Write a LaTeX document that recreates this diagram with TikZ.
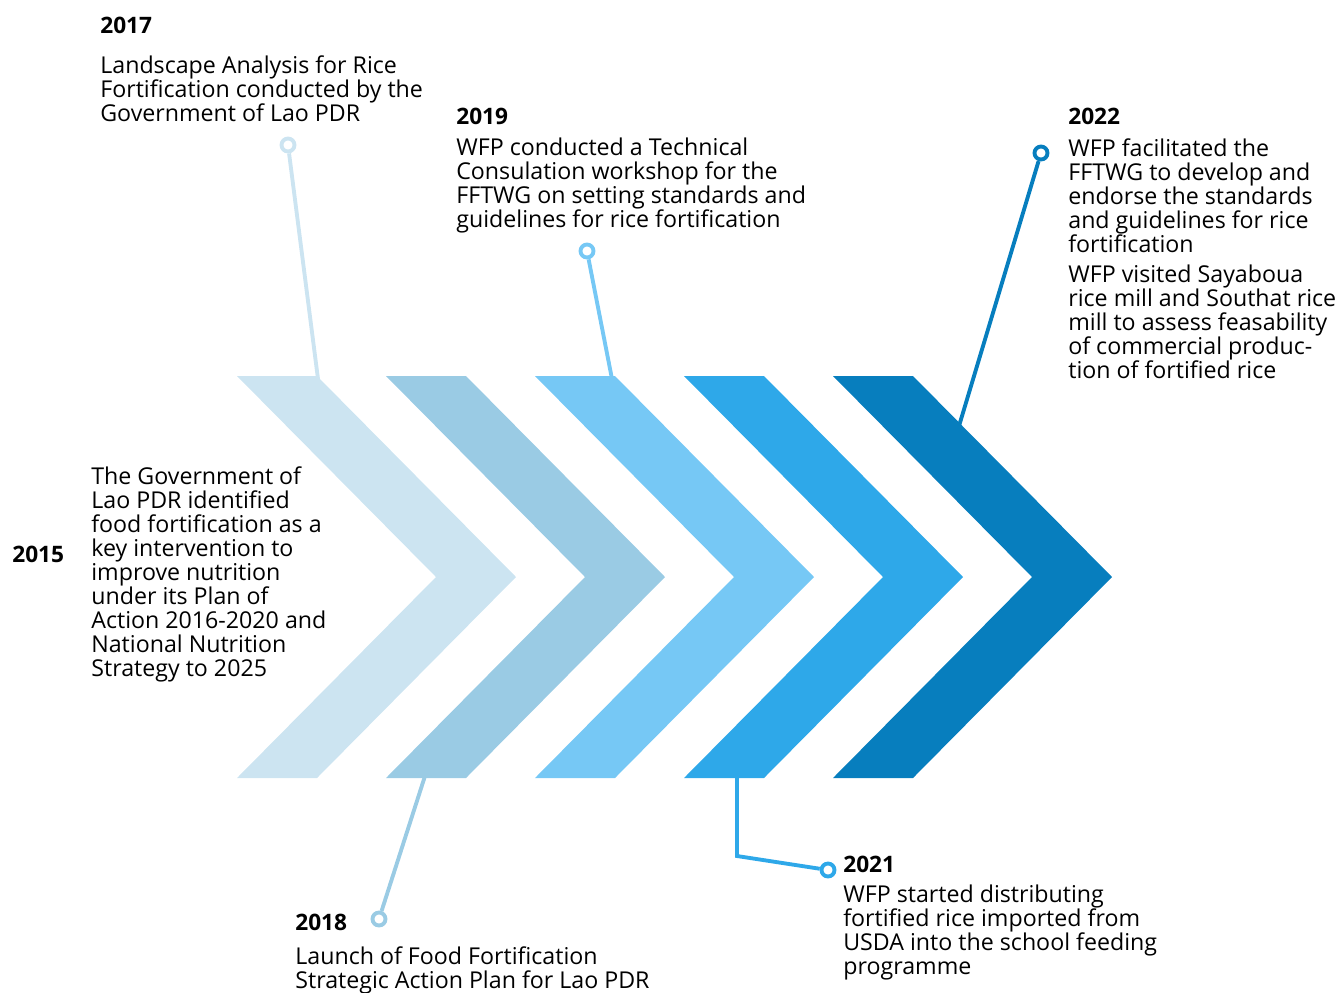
\documentclass[tikz,border=0pt]{standalone}
\usepackage{fontspec}
\setmainfont{Open Sans}
\usepackage{xcolor}

\definecolor{chevA}{HTML}{CCE4F1}
\definecolor{chevB}{HTML}{9ACBE4}
\definecolor{chevC}{HTML}{76C8F5}
\definecolor{chevD}{HTML}{2EA8E9}
\definecolor{chevE}{HTML}{077EBE}

\begin{document}
\begin{tikzpicture}[x=0.02cm, y=-0.02cm, every node/.style={inner sep=0pt, align=left, anchor=north west, font=\fontsize{13.2}{13.66}\selectfont}, year/.style={font=\fontsize{12.9}{14}\selectfont\bfseries}, dot/.style={circle, draw=#1, fill=white, line width=2.2pt, minimum size=0.26cm, anchor=center}, link/.style={draw=#1, line width=2.2pt}]
  \useasboundingbox (0,0) rectangle (1339,992);
  % chevrons
  \foreach \i/\c in {0/chevA,1/chevB,2/chevC,3/chevD,4/chevE}
    \fill[\c] ({237+149*\i},376) -- ++(80,0) -- ++(199,201) -- ++(-199,201) -- ++(-80,0) -- ++(199,-201) -- cycle;

  % ends of the connectors on the chevrons
  \coordinate (p2017) at (318,379);
  \coordinate (p2018) at (425,776);
  \coordinate (p2019) at (612,379);
  \coordinate (p2021) at (737,776);
  \coordinate (k2021) at (737,856);
  \coordinate (p2022) at (959,426);

  \node[dot=chevA] (c2017) at (288,145) {};
  \node[dot=chevB] (c2018) at (379,919) {};
  \node[dot=chevC] (c2019) at (587,251) {};
  \node[dot=chevD] (c2021) at (828,870) {};
  \node[dot=chevE] (c2022) at (1041,153) {};

  \draw[link=chevA] (c2017) -- (p2017);
  \draw[link=chevB] (c2018) -- (p2018);
  \draw[link=chevC] (c2019) -- (p2019);
  \draw[link=chevD] (c2021) -- (k2021) -- (p2021);
  \draw[link=chevE] (c2022) -- (p2022);

  % texts
  \node[year] (y2015) at (12,546) {2015};
  \node (t2015) at (91,466) {The Government of\\Lao PDR identified\\food fortification as a\\key intervention to\\improve nutrition\\under its Plan of\\Action 2016-2020 and\\National Nutrition\\Strategy to 2025};

  \node[year] (y2017) at (100,17) {2017};
  \node (t2017) at (100,55) {Landscape Analysis for Rice\\Fortification conducted by the\\Government of Lao PDR};

  \node[year] (y2018) at (295,914) {2018};
  \node (t2018) at (295,946) {Launch of Food Fortification\\Strategic Action Plan for Lao PDR};

  \node[year] (y2019) at (456,108) {2019};
  \node (t2019) at (456,138) {WFP conducted a Technical\\Consulation workshop for the\\FFTWG on setting standards and\\guidelines for rice fortification};

  \node[year] (y2021) at (843,856) {2021};
  \node (t2021) at (843,885) {WFP started distributing\\fortified rice imported from\\USDA into the school feeding\\programme};

  \node[year] (y2022) at (1068,108) {2022};
  \node (t2022a) at (1068,138) {WFP facilitated the\\FFTWG to develop and\\endorse the standards\\and guidelines for rice\\fortification};
  \node (t2022b) at (1068,265) {WFP visited Sayaboua\\rice mill and Southat rice\\mill to assess feasability\\of commercial produc-\\tion of fortified rice};
\end{tikzpicture}
\end{document}
